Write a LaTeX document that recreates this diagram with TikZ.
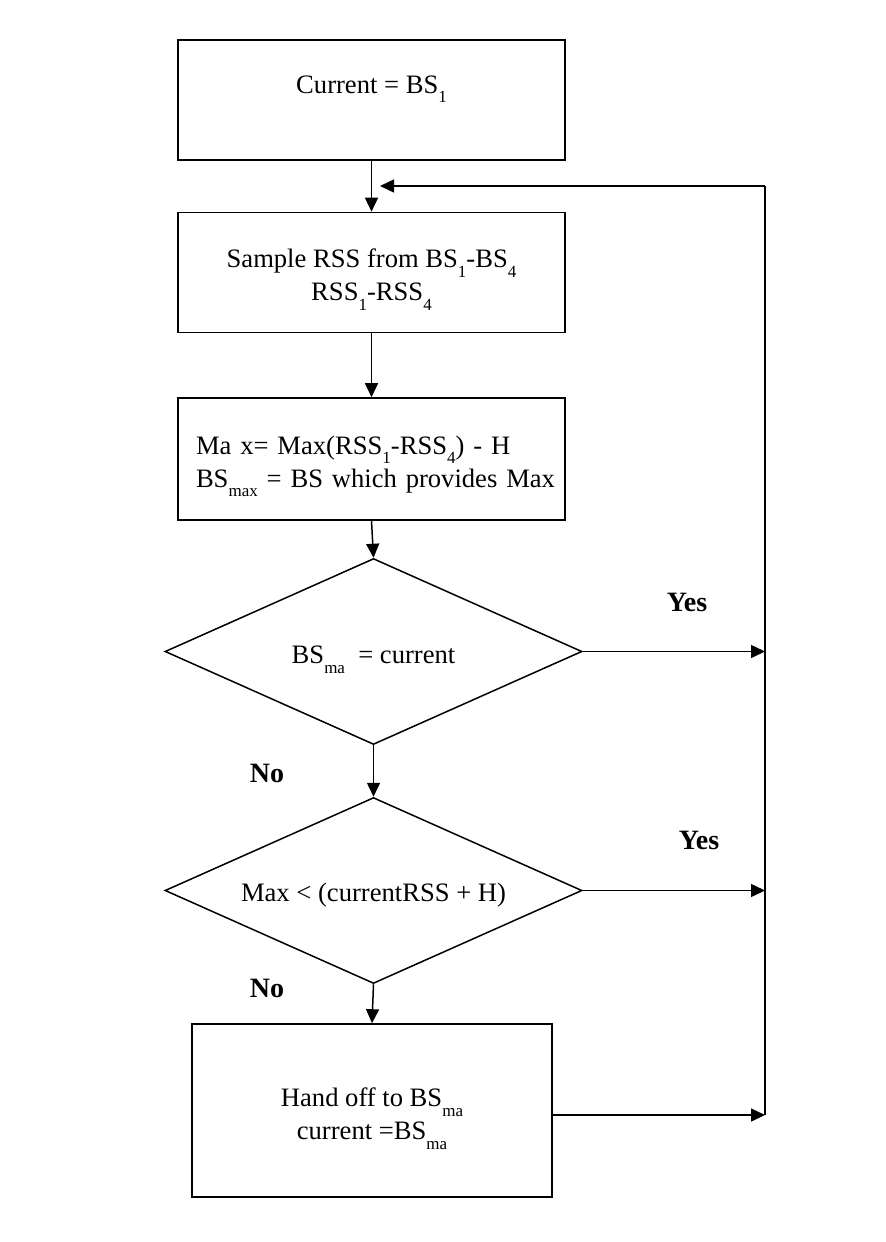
\documentclass[tikz,border=0pt]{standalone}
\usepackage{fontspec}
\setmainfont{Liberation Serif}
\usepackage{tikz}
\usetikzlibrary{shapes.geometric, arrows.meta, positioning}
\newcommand{\lowsub}[1]{\raisebox{-0.75ex}{\fontsize{8.5}{9}\selectfont #1}}
\newcommand{\topstrut}[1]{\rule{0pt}{#1}}

\begin{document}
\begin{tikzpicture}[x=0.5pt, y=-0.5pt, >={Triangle[length=7pt, width=6.5pt]}, line width=0.75pt,
    font=\fontsize{13.3}{16.5}\selectfont,
    stepbox/.style={draw, rectangle, line width=0.8pt, minimum width=193.5pt, minimum height=60pt, align=center},
    testbox/.style={draw, diamond, inner sep=0pt, shape aspect=2.23, minimum width=208.5pt, minimum height=93pt},
    answer/.style={font=\fontsize{14}{16}\selectfont\bfseries}]
    \useasboundingbox (0,0) rectangle (886,1242);

    % Nodes
    \node[stepbox, text height=10pt, text depth=17pt] (cur) at (371.5, 100) {Current = BS\lowsub{1}};
    \node[stepbox] (samp) at (371.5, 272.5) {\topstrut{16.5pt}Sample RSS from BS\lowsub{1}-BS\lowsub{4}\\RSS\lowsub{1}-RSS\lowsub{4}};
    \node[stepbox, minimum height=61pt, text width=175.5pt, inner xsep=9pt, align=left] (maxb) at (371.5, 459)
        {\mbox{\topstrut{16.5pt}Ma x= Max(RSS\lowsub{1}-RSS\lowsub{4}) - H}\\\mbox{BS\lowsub{max} = BS which provides Max}};
    \node[testbox] (dec1) at (373.5, 651.5) {\topstrut{17pt}BS\lowsub{ma}\ \ = current};
    \node[testbox] (dec2) at (373.5, 890.5) {\topstrut{13.5pt}Max < (currentRSS + H)};
    \node[stepbox, minimum width=180pt, minimum height=86.5pt] (hand) at (372, 1110.5)
        {\topstrut{17.5pt}Hand off to BS\lowsub{ma}\\current =BS\lowsub{ma}};

    \node[answer] (yes1) at (687, 602) {Yes};
    \node[answer] (yes2) at (699, 840) {Yes};
    \node[answer] (no1) at (267, 773) {No};
    \node[answer] (no2) at (267, 988) {No};

    \coordinate (top) at (765, 186);
    \coordinate (entry) at (380, 186);
    \coordinate (y1) at (765, 651.5);
    \coordinate (y2) at (765, 890.5);
    \coordinate (y3) at (765, 1115);

    % Paths
    \draw[->] (cur) -- (samp);
    \draw[->] (samp) -- (maxb);
    \draw[->] (maxb.south) -- (dec1.north);
    \draw[->] (dec1.south) -- (dec2.north);
    \draw[->] (dec2.south) -- (hand.north);

    \draw[->] (dec1.east) -- (y1);
    \draw[->] (dec2.east) -- (y2);
    \draw[->] (hand.east |- y3) -- (y3);
    \draw (y3) -- (top);
    \draw[->] (top) -- (entry);
\end{tikzpicture}
\end{document}
